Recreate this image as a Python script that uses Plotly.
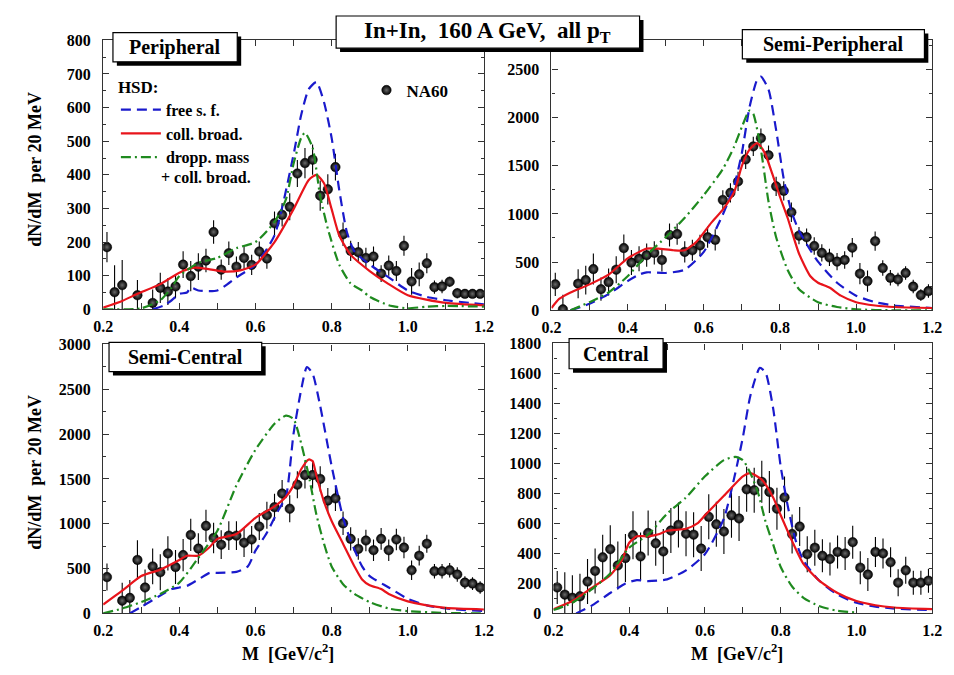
import plotly.graph_objects as go

W, H = 954, 675          # browser window / reference size
OX, OY = 8, 8            # page body margin offset of the plot div
FW, FH = W - OX, H - OY  # figure size so the page does not overflow
FONT = "Liberation Serif"

# ---------------- DATA ----------------
# Peripheral
p1_x = [0.21, 0.23, 0.25, 0.29, 0.33, 0.35, 0.37, 0.39, 0.41, 0.43, 0.45, 0.47, 0.49, 0.51, 0.53, 0.55, 0.57,
        0.59, 0.61, 0.63, 0.65, 0.67, 0.69, 0.71, 0.73, 0.75, 0.77, 0.79, 0.81, 0.83, 0.85, 0.87, 0.89, 0.91,
        0.93, 0.95, 0.97, 0.99, 1.01, 1.03, 1.05, 1.07, 1.09, 1.11, 1.13, 1.15, 1.17, 1.19]
p1_y = [185, 51, 72, 42, 19, 64, 53, 68, 133, 99, 127, 145, 230, 118, 167, 127, 153,
        132, 172, 151, 256, 281, 305, 404, 435, 445, 338, 357, 423, 223, 174, 170, 153, 157,
        106, 130, 114, 189, 83, 104, 137, 66, 68, 82, 48, 46, 46, 46]
p1_e = [45, 80, 75, 45, 40, 45, 40, 35, 40, 45, 40, 35, 35, 30, 35, 30, 35,
        30, 30, 30, 35, 35, 40, 40, 45, 45, 45, 45, 40, 35, 30, 30, 30, 30,
        25, 30, 30, 30, 40, 35, 30, 20, 20, 15, 15, 12, 12, 12]
p1_red_x = [0.2, 0.25, 0.29, 0.35, 0.4, 0.44, 0.48, 0.52, 0.56, 0.6, 0.65, 0.7, 0.74, 0.76, 0.78, 0.8, 0.82,
            0.85, 0.9, 0.95, 1.0, 1.1, 1.2]
p1_red_y = [5, 25, 46, 75, 109, 124, 119, 112, 116, 133, 200, 298, 385, 400, 375, 298, 220,
            162, 114, 75, 42, 19, 12]
p1_blue_x = [0.33, 0.36, 0.38, 0.40, 0.42, 0.43, 0.45, 0.5, 0.55, 0.6, 0.65, 0.7, 0.72, 0.74, 0.76, 0.78,
             0.8, 0.82, 0.84, 0.86, 0.9, 0.95, 1.0, 1.05, 1.1, 1.2]
p1_blue_y = [0, 12, 27, 46, 50, 65, 56, 56, 95, 133, 220, 460, 578, 655, 676, 616,
             510, 355, 230, 172, 133, 95, 56, 37, 27, 15]
p1_green_x = [0.2, 0.3, 0.35, 0.38, 0.4, 0.45, 0.5, 0.55, 0.6, 0.65, 0.68, 0.7, 0.72, 0.73, 0.75, 0.77,
              0.79, 0.82, 0.85, 0.88, 0.9, 0.95, 1.0, 1.05, 1.1, 1.2]
p1_green_y = [0, 3, 27, 65, 99, 138, 153, 182, 200, 260, 327, 433, 510, 525, 481, 336,
              240, 133, 77, 56, 37, 12, 3, 8, 10, 8]

# Semi-Peripheral
p2_x = [0.21, 0.23, 0.27, 0.29, 0.31, 0.33, 0.35, 0.37, 0.39, 0.41, 0.43, 0.45, 0.47, 0.49, 0.51, 0.53,
        0.55, 0.57, 0.59, 0.61, 0.63, 0.65, 0.67, 0.69, 0.71, 0.73, 0.75, 0.77, 0.79, 0.81, 0.83, 0.85,
        0.87, 0.89, 0.91, 0.93, 0.95, 0.97, 0.99, 1.01, 1.03, 1.05, 1.07, 1.09, 1.11, 1.13, 1.15, 1.17, 1.19]
p2_y = [269, 10, 276, 313, 428, 219, 293, 421, 646, 495, 535, 572, 596, 522, 781, 791,
        606, 623, 673, 758, 731, 1145, 1219, 1337, 1566, 1700, 1785, 1609, 1286, 1239, 1017, 774,
        758, 667, 596, 549, 505, 522, 650, 380, 303, 717, 438, 337, 320, 387, 246, 158, 199]
p2_e = [120, 150, 150, 150, 160, 120, 140, 140, 140, 130, 130, 120, 120, 120, 120, 110,
        110, 110, 110, 110, 110, 100, 100, 100, 100, 100, 100, 100, 100, 100, 100, 90,
        90, 90, 90, 90, 90, 90, 100, 110, 110, 100, 80, 80, 70, 70, 70, 60, 70]
p2_red_x = [0.2, 0.22, 0.25, 0.3, 0.35, 0.4, 0.45, 0.48, 0.52, 0.55, 0.58, 0.62, 0.65, 0.68, 0.7, 0.72,
            0.74, 0.76, 0.78, 0.8, 0.82, 0.85, 0.88, 0.9, 0.93, 0.96, 1.0, 1.05, 1.1, 1.2]
p2_red_y = [24, 118, 185, 269, 370, 539, 640, 640, 623, 623, 707, 909, 1044, 1229, 1498, 1667,
            1734, 1633, 1414, 1178, 960, 589, 353, 286, 236, 152, 84, 50, 34, 24]
p2_blue_x = [0.25, 0.3, 0.35, 0.4, 0.43, 0.45, 0.5, 0.55, 0.6, 0.65, 0.68, 0.7, 0.72, 0.74, 0.75, 0.77,
             0.79, 0.81, 0.83, 0.85, 0.88, 0.9, 0.95, 1.0, 1.05, 1.1, 1.2]
p2_blue_y = [0, 67, 168, 303, 370, 394, 387, 421, 606, 993, 1296, 1633, 2104, 2391, 2424, 2290,
             1869, 1364, 1027, 825, 623, 505, 286, 152, 84, 50, 24]
p2_green_x = [0.25, 0.3, 0.35, 0.4, 0.45, 0.5, 0.55, 0.6, 0.65, 0.68, 0.7, 0.72, 0.73, 0.75, 0.77, 0.79,
              0.82, 0.85, 0.9, 0.95, 1.0, 1.1, 1.2]
p2_green_y = [0, 84, 185, 354, 572, 758, 960, 1195, 1465, 1700, 1902, 2071, 2037, 1667, 1128, 758,
              421, 219, 84, 34, 10, 0, 0]

# Semi-Central
p3_x = [0.21, 0.25, 0.27, 0.29, 0.31, 0.33, 0.35, 0.37, 0.39, 0.41, 0.43, 0.45, 0.47, 0.49, 0.51, 0.53,
        0.55, 0.57, 0.59, 0.61, 0.63, 0.65, 0.67, 0.69, 0.71, 0.73, 0.75, 0.77, 0.79, 0.81, 0.83, 0.85,
        0.87, 0.89, 0.91, 0.93, 0.95, 0.97, 0.99, 1.01, 1.03, 1.05, 1.07, 1.09, 1.11, 1.13, 1.15, 1.17, 1.19]
p3_y = [405, 141, 173, 596, 289, 524, 459, 669, 517, 650, 875, 723, 976, 842, 766, 867,
        867, 788, 824, 969, 1095, 1185, 1337, 1167, 1435, 1543, 1543, 1500, 1258, 1283, 1005, 831,
        719, 813, 705, 831, 705, 824, 734, 481, 643, 777, 470, 470, 481, 434, 343, 332, 289]
p3_e = [150, 200, 200, 220, 200, 200, 200, 190, 190, 180, 180, 170, 180, 170, 160, 160,
        160, 160, 150, 150, 150, 150, 150, 150, 150, 150, 150, 140, 140, 140, 130, 130,
        120, 120, 120, 120, 120, 120, 120, 110, 110, 100, 80, 80, 80, 80, 70, 70, 70]
p3_red_x = [0.2, 0.25, 0.3, 0.35, 0.4, 0.42, 0.45, 0.48, 0.5, 0.55, 0.6, 0.65, 0.68, 0.7, 0.72, 0.74,
            0.75, 0.76, 0.78, 0.8, 0.83, 0.86, 0.88, 0.9, 0.93, 0.95, 1.0, 1.05, 1.1, 1.2]
p3_red_y = [98, 253, 416, 488, 596, 643, 643, 741, 831, 885, 1066, 1193, 1301, 1428, 1608, 1717,
            1699, 1536, 1247, 1030, 777, 524, 379, 314, 271, 217, 134, 90, 61, 43]
p3_blue_x = [0.27, 0.3, 0.35, 0.38, 0.4, 0.42, 0.45, 0.48, 0.5, 0.55, 0.58, 0.6, 0.63, 0.66, 0.68, 0.7,
             0.72, 0.735, 0.75, 0.77, 0.8, 0.83, 0.85, 0.88, 0.9, 0.95, 1.0, 1.05, 1.1, 1.2]
p3_blue_y = [0, 72, 199, 271, 289, 307, 379, 452, 452, 463, 524, 700, 900, 1150, 1300, 2006,
             2494, 2747, 2674, 2313, 1644, 1066, 813, 524, 416, 289, 163, 90, 54, 25]
p3_green_x = [0.2, 0.25, 0.3, 0.35, 0.4, 0.45, 0.5, 0.55, 0.6, 0.65, 0.68, 0.7, 0.72, 0.74, 0.76, 0.78,
              0.8, 0.83, 0.86, 0.9, 0.95, 1.0, 1.1, 1.2]
p3_green_y = [0, 54, 126, 217, 343, 620, 922, 1428, 1825, 2114, 2205, 2168, 1897, 1536, 1102, 777,
              524, 325, 217, 126, 54, 25, 5, 0]

# Central
p4_x = [0.21, 0.23, 0.25, 0.27, 0.29, 0.31, 0.33, 0.35, 0.37, 0.39, 0.41, 0.43, 0.45, 0.47, 0.49, 0.51,
        0.53, 0.55, 0.57, 0.59, 0.61, 0.63, 0.65, 0.67, 0.69, 0.71, 0.73, 0.75, 0.77, 0.79, 0.81, 0.83,
        0.85, 0.87, 0.89, 0.91, 0.93, 0.95, 0.97, 0.99, 1.01, 1.03, 1.05, 1.07, 1.09, 1.11, 1.13, 1.15,
        1.17, 1.19]
p4_y = [173, 125, 104, 114, 212, 283, 374, 428, 320, 369, 521, 380, 536, 467, 413, 553,
        590, 531, 525, 432, 644, 594, 546, 654, 633, 827, 821, 877, 810, 698, 773, 529,
        579, 395, 438, 384, 363, 410, 400, 475, 305, 259, 410, 400, 341, 205, 287, 205,
        205, 218]
p4_e = [110, 150, 150, 150, 150, 150, 150, 160, 160, 160, 160, 160, 150, 150, 150, 150,
        150, 150, 150, 150, 150, 150, 150, 150, 150, 150, 150, 140, 140, 140, 140, 130,
        130, 120, 120, 110, 110, 110, 110, 110, 110, 110, 100, 100, 100, 90, 90, 80,
        80, 80]
p4_red_x = [0.2, 0.25, 0.3, 0.35, 0.38, 0.4, 0.42, 0.45, 0.48, 0.5, 0.55, 0.58, 0.6, 0.65, 0.7, 0.72,
            0.75, 0.78, 0.8, 0.83, 0.86, 0.9, 0.95, 1.0, 1.05, 1.1, 1.2]
p4_red_y = [28, 82, 168, 255, 352, 471, 514, 514, 529, 551, 564, 600, 654, 784, 914, 935,
            892, 773, 654, 482, 330, 222, 136, 82, 54, 39, 28]
p4_blue_x = [0.26, 0.3, 0.35, 0.39, 0.42, 0.45, 0.5, 0.55, 0.6, 0.65, 0.68, 0.7, 0.72, 0.745, 0.76, 0.78,
             0.8, 0.82, 0.84, 0.86, 0.9, 0.95, 1.0, 1.05, 1.1, 1.2]
p4_blue_y = [0, 50, 136, 200, 222, 215, 227, 287, 395, 633, 935, 1173, 1453, 1637, 1605, 1367,
             978, 698, 482, 352, 222, 125, 71, 45, 32, 22]
p4_green_x = [0.2, 0.25, 0.3, 0.35, 0.4, 0.45, 0.5, 0.55, 0.6, 0.65, 0.68, 0.7, 0.72, 0.74, 0.76, 0.78,
              0.8, 0.83, 0.86, 0.9, 0.95, 1.0]
p4_green_y = [22, 71, 158, 266, 438, 525, 665, 773, 914, 1022, 1043, 1022, 935, 806, 611, 460,
              309, 179, 104, 50, 17, 6]

panel_names = ["Peripheral", "Semi-Peripheral", "Semi-Central", "Central"]
y_max = [800, 2800, 3000, 1800]
y_dtick = [100, 500, 500, 200]
x_ticks = [0.2, 0.4, 0.6, 0.8, 1.0, 1.2]
legend_names = ["free s. f.", "coll. broad.", "dropp. mass"]
title_text = "In+In,  160 A GeV,  all p<sub>T</sub>"
y_title = "dN/dM  per 20 MeV"
x_title = "M  [GeV/c<sup>2</sup>]"

panels = [
    (p1_x, p1_y, p1_e, p1_red_x, p1_red_y, p1_blue_x, p1_blue_y, p1_green_x, p1_green_y),
    (p2_x, p2_y, p2_e, p2_red_x, p2_red_y, p2_blue_x, p2_blue_y, p2_green_x, p2_green_y),
    (p3_x, p3_y, p3_e, p3_red_x, p3_red_y, p3_blue_x, p3_blue_y, p3_green_x, p3_green_y),
    (p4_x, p4_y, p4_e, p4_red_x, p4_red_y, p4_blue_x, p4_blue_y, p4_green_x, p4_green_y),
]


# ---------------- LAYOUT GEOMETRY (screen pixels -> paper) ----------------
def px(x):
    return (x - OX) / FW


def py(y):
    return 1 - (y - OY) / FH


xdom_px = [(95, 484), (553, 942), (95, 484), (555, 942)]
ydom_px = [(33, 309), (33, 310), (345, 621), (344, 621)]

BLUE = "#1a1acc"
RED = "#e8141b"
GREEN = "#1f8a1f"

fig = go.Figure()
for i, (dx, dy, de, rx, ry, bx, by, gx, gy) in enumerate(panels):
    sfx = "" if i == 0 else str(i + 1)
    xa, ya = "x" + sfx, "y" + sfx
    first = (i == 0)
    fig.add_trace(go.Scatter(
        x=dx, y=dy, mode="markers", name="NA60", legend="legend2", showlegend=first,
        xaxis=xa, yaxis=ya,
        marker=dict(size=9.5, color="black", line=dict(color="black", width=0.5),
                    gradient=dict(type="radial", color="#6a6a6a")),
        error_y=dict(type="data", array=de, color="black", thickness=1.1, width=0),
    ))
    fig.add_trace(go.Scatter(
        x=bx, y=by, mode="lines", name=legend_names[0], showlegend=first, legendrank=1,
        xaxis=xa, yaxis=ya, line=dict(color=BLUE, width=2.2, dash="10px,6px", shape="spline", smoothing=0.6),
    ))
    fig.add_trace(go.Scatter(
        x=rx, y=ry, mode="lines", name=legend_names[1], showlegend=first, legendrank=2,
        xaxis=xa, yaxis=ya, line=dict(color=RED, width=2.2, shape="spline", smoothing=0.6),
    ))
    fig.add_trace(go.Scatter(
        x=gx, y=gy, mode="lines", name=legend_names[2], showlegend=first, legendrank=3,
        xaxis=xa, yaxis=ya, line=dict(color=GREEN, width=2.2, dash="10px,4px,2px,4px", shape="spline", smoothing=0.6),
    ))

tickfont = dict(family=FONT, size=16, color="black", weight="bold")
layout = dict(
    width=FW, height=FH,
    margin=dict(l=0, r=0, t=0, b=0),
    paper_bgcolor="white", plot_bgcolor="white",
    font=dict(family=FONT, color="black"),
    legend=dict(x=px(108), y=py(64), xanchor="left", yanchor="top", bgcolor="rgba(0,0,0,0)",
                title=dict(text="HSD:", font=dict(family=FONT, size=17, weight="bold")),
                font=dict(family=FONT, size=16, weight="bold"), itemwidth=40, tracegroupgap=0,
                traceorder="normal"),
    legend2=dict(x=px(364), y=py(66), xanchor="left", yanchor="top", bgcolor="rgba(0,0,0,0)",
                 font=dict(family=FONT, size=17, weight="bold"), itemwidth=30),
)
for i in range(4):
    sfx = "" if i == 0 else str(i + 1)
    x0, x1 = xdom_px[i]
    yt, yb = ydom_px[i]
    common = dict(showline=True, linecolor="#333", linewidth=1.2, mirror="allticks",
                  ticks="inside", ticklen=6, tickcolor="#333", showgrid=False, zeroline=False,
                  tickfont=tickfont, ticklabeloverflow="allow")
    layout["xaxis" + sfx] = dict(common, domain=[px(x0), px(x1)], range=[0.2, 1.2],
                                 tickvals=x_ticks, ticktext=[f"{v:.1f}" for v in x_ticks],
                                 anchor="y" + sfx, ticklabelstandoff=2,
                                 minor=dict(dtick=0.1, tick0=0.2, ticklen=6, ticks="inside", tickcolor="#333"))
    layout["yaxis" + sfx] = dict(common, domain=[py(yb), py(yt)], range=[0, y_max[i]],
                                 dtick=y_dtick[i], tick0=0, anchor="x" + sfx, ticklabelstandoff=8,
                                 minor=dict(dtick=y_dtick[i] / 2, ticklen=3, ticks="inside", tickcolor="#333"))
fig.update_layout(**layout)

# ---------------- boxes with shadows ----------------
boxes = [
    (333, 8, 643, 41, title_text, 23),
    (105, 25, 232, 55, panel_names[0], 20),
    (748, 22, 934, 52, panel_names[1], 20),
    (101, 343, 257, 373, panel_names[2], 20),
    (571, 339, 667, 370, panel_names[3], 20),
]
shapes = []
annotations = []
for (bx0, by0, bx1, by1, txt, fs) in boxes:
    shapes.append(dict(type="rect", xref="paper", yref="paper", layer="above",
                       x0=px(bx0 + 4), x1=px(bx1 + 4), y0=py(by1 + 4), y1=py(by0 + 4),
                       fillcolor="black", line=dict(width=0)))
    shapes.append(dict(type="rect", xref="paper", yref="paper", layer="above",
                       x0=px(bx0), x1=px(bx1), y0=py(by1), y1=py(by0),
                       fillcolor="white", line=dict(color="black", width=1.2)))
    annotations.append(dict(text=txt, xref="paper", yref="paper", x=px((bx0 + bx1) / 2),
                            y=py((by0 + by1) / 2), showarrow=False, xanchor="center", yanchor="middle",
                            font=dict(family=FONT, size=fs, weight="bold", color="black")))

annotations.append(dict(text="+ coll. broad.", xref="paper", yref="paper", x=px(152), y=py(174),
                        showarrow=False, xanchor="left", yanchor="middle",
                        font=dict(family=FONT, size=16, weight="bold", color="black")))
for yc in (165, 476):
    annotations.append(dict(text=y_title, xref="paper", yref="paper", x=px(25), y=py(yc),
                            showarrow=False, textangle=-90, xanchor="center", yanchor="middle",
                            font=dict(family=FONT, size=18, weight="bold", color="black")))
for xc, yc in ((284, 661), (743, 661)):
    annotations.append(dict(text=x_title, xref="paper", yref="paper", x=px(xc), y=py(yc),
                            showarrow=False, xanchor="center", yanchor="middle",
                            font=dict(family=FONT, size=18, weight="bold", color="black")))

fig.update_layout(shapes=shapes, annotations=annotations)
fig.write_html("out.html")
